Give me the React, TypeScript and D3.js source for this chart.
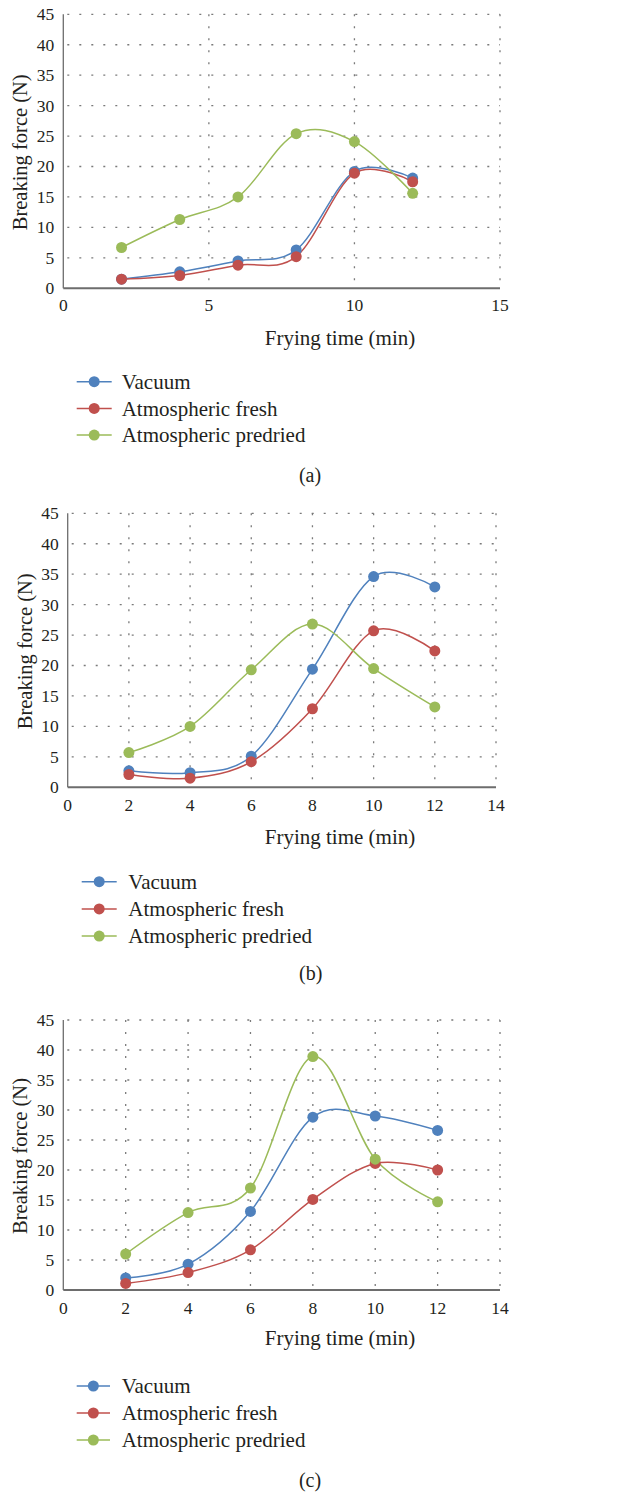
import React, { useEffect, useRef } from "react";
import * as d3 from "d3";

const seriesNames = ["Vacuum", "Atmospheric fresh", "Atmospheric predried"];
const seriesColors = ["#4F81BD", "#C0504D", "#9BBB59"];
const fryingTimes = [2, 4, 6, 8, 10, 12];

const vacuumA = [1.5, 2.7, 4.5, 6.3, 19.2, 18.1];
const freshA = [1.5, 2.1, 3.8, 5.2, 18.9, 17.5];
const prefriedA = [6.7, 11.3, 15.0, 25.4, 24.1, 15.6];

const vacuumB = [2.7, 2.4, 5.1, 19.4, 34.6, 32.9];
const freshB = [2.1, 1.5, 4.2, 12.9, 25.7, 22.4];
const prefriedB = [5.7, 10.0, 19.3, 26.8, 19.5, 13.2];

const vacuumC = [2.0, 4.3, 13.1, 28.8, 29.0, 26.6];
const freshC = [1.1, 2.9, 6.7, 15.1, 21.1, 20.0];
const prefriedC = [6.0, 12.9, 17.0, 38.9, 21.8, 14.7];

const xTicksA = [0, 5, 10, 15];
const xTicksBC = [0, 2, 4, 6, 8, 10, 12, 14];
const yTicks = [0, 5, 10, 15, 20, 25, 30, 35, 40, 45];
const captions = ["(a)", "(b)", "(c)"];
const xTitle = "Frying time (min)";
const yTitle = "Breaking force (N)";

const panels = [
  {
    series: [vacuumA, freshA, prefriedA], xTicks: xTicksA, xMax: 15,
    left: 63.3, right: 500, top: 14.3, bottom: 288.3, yLabelX: 20,
    xTickY: 305, xTitleY: 338, legendY: 381.7, legendStep: 26.7,
    legendX0: 76.7, legendX1: 111.7, legendText: 121.7, capX: 310, capY: 475,
  },
  {
    series: [vacuumB, freshB, prefriedB], xTicks: xTicksBC, xMax: 14,
    left: 67.7, right: 496, top: 513.3, bottom: 787.3, yLabelX: 25,
    xTickY: 805, xTitleY: 837, legendY: 881.7, legendStep: 27.2,
    legendX0: 81.7, legendX1: 116.7, legendText: 128.3, capX: 310.7, capY: 973,
  },
  {
    series: [vacuumC, freshC, prefriedC], xTicks: xTicksBC, xMax: 14,
    left: 63.3, right: 500, top: 1020, bottom: 1290, yLabelX: 20,
    xTickY: 1308, xTitleY: 1338, legendY: 1386, legendStep: 27,
    legendX0: 76.7, legendX1: 110, legendText: 121.7, capX: 310, capY: 1480,
  },
];

const FONT = "'Liberation Serif', 'DejaVu Serif', serif";
const TEXT = "#231f20";

export default function App() {
  const ref = useRef<SVGSVGElement>(null);

  useEffect(() => {
    const svg = d3.select(ref.current);
    svg.selectAll("*").remove();

    panels.forEach((p, pi) => {
      const g = svg.append("g");
      const x = d3.scaleLinear().domain([0, p.xMax]).range([p.left, p.right]);
      const y = d3.scaleLinear().domain([0, 45]).range([p.bottom, p.top]);

      // horizontal grid
      g.selectAll(".hg").data(yTicks.filter((t) => t > 0)).enter().append("line")
        .attr("x1", p.left + 4).attr("x2", p.right)
        .attr("y1", (d) => y(d)).attr("y2", (d) => y(d))
        .attr("stroke", "#7a7a7a").attr("stroke-width", 1.3)
        .attr("stroke-dasharray", "2,10");
      // vertical grid
      g.selectAll(".vg").data(p.xTicks.filter((t) => t > 0)).enter().append("line")
        .attr("x1", (d) => x(d)).attr("x2", (d) => x(d))
        .attr("y1", p.top).attr("y2", p.bottom)
        .attr("stroke", "#7a7a7a").attr("stroke-width", 1.3)
        .attr("stroke-dasharray", "2,10");

      // axes
      g.append("line").attr("x1", p.left).attr("x2", p.left)
        .attr("y1", p.top).attr("y2", p.bottom)
        .attr("stroke", "#6d6d6d").attr("stroke-width", 1.3);
      g.append("line").attr("x1", p.left).attr("x2", p.right)
        .attr("y1", p.bottom).attr("y2", p.bottom)
        .attr("stroke", "#6d6d6d").attr("stroke-width", 2);

      // tick labels
      g.selectAll(".yt").data(yTicks).enter().append("text")
        .attr("x", p.left - 9).attr("y", (d) => y(d))
        .attr("dy", "0.34em").attr("text-anchor", "end")
        .attr("font-family", FONT).attr("font-size", 17.5).attr("fill", TEXT)
        .text((d) => d);
      g.selectAll(".xt").data(p.xTicks).enter().append("text")
        .attr("x", (d) => x(d)).attr("y", p.xTickY)
        .attr("dy", "0.34em").attr("text-anchor", "middle")
        .attr("font-family", FONT).attr("font-size", 17.5).attr("fill", TEXT)
        .text((d) => d);

      // axis titles
      g.append("text").attr("x", 340).attr("y", p.xTitleY).attr("dy", "0.34em")
        .attr("text-anchor", "middle").attr("font-family", FONT)
        .attr("font-size", 21).attr("fill", TEXT).text(xTitle);
      g.append("text")
        .attr("transform", `translate(${p.yLabelX},${(p.top + p.bottom) / 2 + 1}) rotate(-90)`)
        .attr("dy", "0.34em").attr("text-anchor", "middle").attr("font-family", FONT)
        .attr("font-size", 20.5).attr("fill", TEXT).text(yTitle);

      // series
      const line = d3.line<number>()
        .x((_, i) => x(fryingTimes[i]))
        .y((d) => y(d))
        .curve(d3.curveCardinal.tension(0));
      p.series.forEach((vals, si) => {
        g.append("path").attr("d", line(vals) as string).attr("fill", "none")
          .attr("stroke", seriesColors[si]).attr("stroke-width", 1.5);
      });
      p.series.forEach((vals, si) => {
        g.selectAll(".pt" + si).data(vals).enter().append("circle")
          .attr("cx", (_, i) => x(fryingTimes[i])).attr("cy", (d) => y(d))
          .attr("r", 5.5).attr("fill", seriesColors[si]);
      });

      // legend
      seriesNames.forEach((name, si) => {
        const ly = p.legendY + si * p.legendStep;
        g.append("line").attr("x1", p.legendX0).attr("x2", p.legendX1)
          .attr("y1", ly).attr("y2", ly)
          .attr("stroke", seriesColors[si]).attr("stroke-width", 1.5);
        g.append("circle").attr("cx", (p.legendX0 + p.legendX1) / 2).attr("cy", ly)
          .attr("r", 5.5).attr("fill", seriesColors[si]);
        g.append("text").attr("x", p.legendText).attr("y", ly).attr("dy", "0.34em")
          .attr("font-family", FONT).attr("font-size", 21).attr("fill", TEXT)
          .text(name);
      });

      // caption
      g.append("text").attr("x", p.capX).attr("y", p.capY).attr("dy", "0.34em")
        .attr("text-anchor", "middle").attr("font-family", FONT)
        .attr("font-size", 20).attr("fill", TEXT).text(captions[pi]);
    });
  }, []);

  return (
    <svg
      ref={ref}
      width={632}
      height={1492}
      style={{ position: "absolute", left: 0, top: 0, background: "#fff" }}
    />
  );
}
